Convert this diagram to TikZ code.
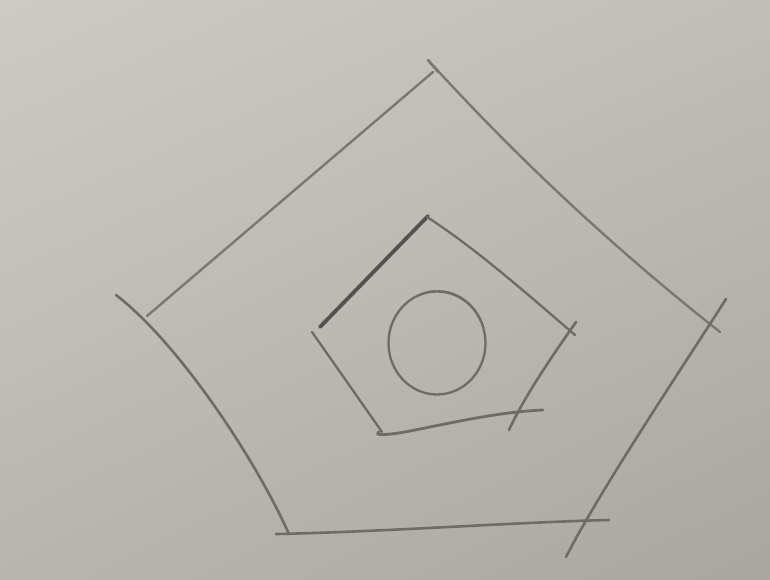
\documentclass[tikz,border=0pt]{standalone}
\usepackage{tikz}
\usetikzlibrary{shadings}
\definecolor{paperUL}{RGB}{204,204,196}
\definecolor{paperUR}{RGB}{192,191,183}
\definecolor{paperLL}{RGB}{184,181,174}
\definecolor{paperLR}{RGB}{170,166,160}
\definecolor{pencil}{RGB}{108,108,104}
\definecolor{pencildark}{RGB}{82,82,80}
\tikzset{
  pen/.style={draw=pencil, line width=2.6pt, line cap=round, line join=round},
  penlight/.style={draw=pencil!85!paperUR, line width=2.4pt, line cap=round},
  pendark/.style={draw=pencildark, line width=3.8pt, line cap=round},
}
\begin{document}
\begin{tikzpicture}[x=1pt,y=-1pt]
\useasboundingbox (0,0) rectangle (770,580);
\shade[upper left=paperUL, upper right=paperUR, lower left=paperLL, lower right=paperLR] (0,0) rectangle (770,580);

% outer pentagon corners / ends
\coordinate (oTLa) at (147,316);
\coordinate (oTLb) at (433,72);
\coordinate (oTop) at (428,60);
\coordinate (oTopt) at (438,72);
\coordinate (oTRb) at (720,332);
\coordinate (oRa) at (726,299);
\coordinate (oRb) at (566,557);
\coordinate (oBa) at (276,534);
\coordinate (oBb) at (609,520);
\coordinate (oLa) at (116,295);
\coordinate (oLb) at (289,534);

\draw[penlight] (oTLa) -- (oTLb);
\draw[penlight] (oTop) -- (oTopt);
\draw[penlight] (oTop) .. controls (517.8,158.8) and (615.2,249.4) .. (oTRb);
\draw[pen] (oRa) .. controls (686,362) and (600,490) .. (oRb);
\draw[pen] (oBa) .. controls (380,532) and (520,522) .. (oBb);
\draw[pen] (oLa) .. controls (175,340) and (252,452) .. (oLb);

% inner pentagon
\coordinate (iTLa) at (320,327);
\coordinate (iTLb) at (428,216);
\coordinate (iTRa) at (427,217);
\coordinate (iTRb) at (575,335);
\coordinate (iRa) at (576,322);
\coordinate (iRb) at (509,430);
\coordinate (iBa) at (379,432);
\coordinate (iBb) at (543,410);
\coordinate (iLa) at (312,332);
\coordinate (iLb) at (382,432);

\draw[pendark] (iTLa) -- (iTLb);
\draw[pen, line width=2.3pt] (iTRa) .. controls (475,248) and (525,292) .. (iTRb);
\draw[pen] (iRa) .. controls (555,352) and (525,395) .. (iRb);
\draw[pen, line width=2.8pt] (iBa) .. controls (372,436) and (390,435) .. (410,431) .. controls (460,421) and (500,412) .. (iBb);
\draw[pen, line width=2.3pt] (iLa) -- (iLb);

% circle
\coordinate (cc) at (437,343);
\draw[pen, line width=2.3pt] (cc) ellipse [x radius=48.5, y radius=51.5];
\draw[pen, line width=1.4pt, opacity=0.6] ([shift={(1.5,-1.5)}]cc) ++(-110:51) arc[start angle=-110, end angle=-15, x radius=48, y radius=51];
\end{tikzpicture}
\end{document}
